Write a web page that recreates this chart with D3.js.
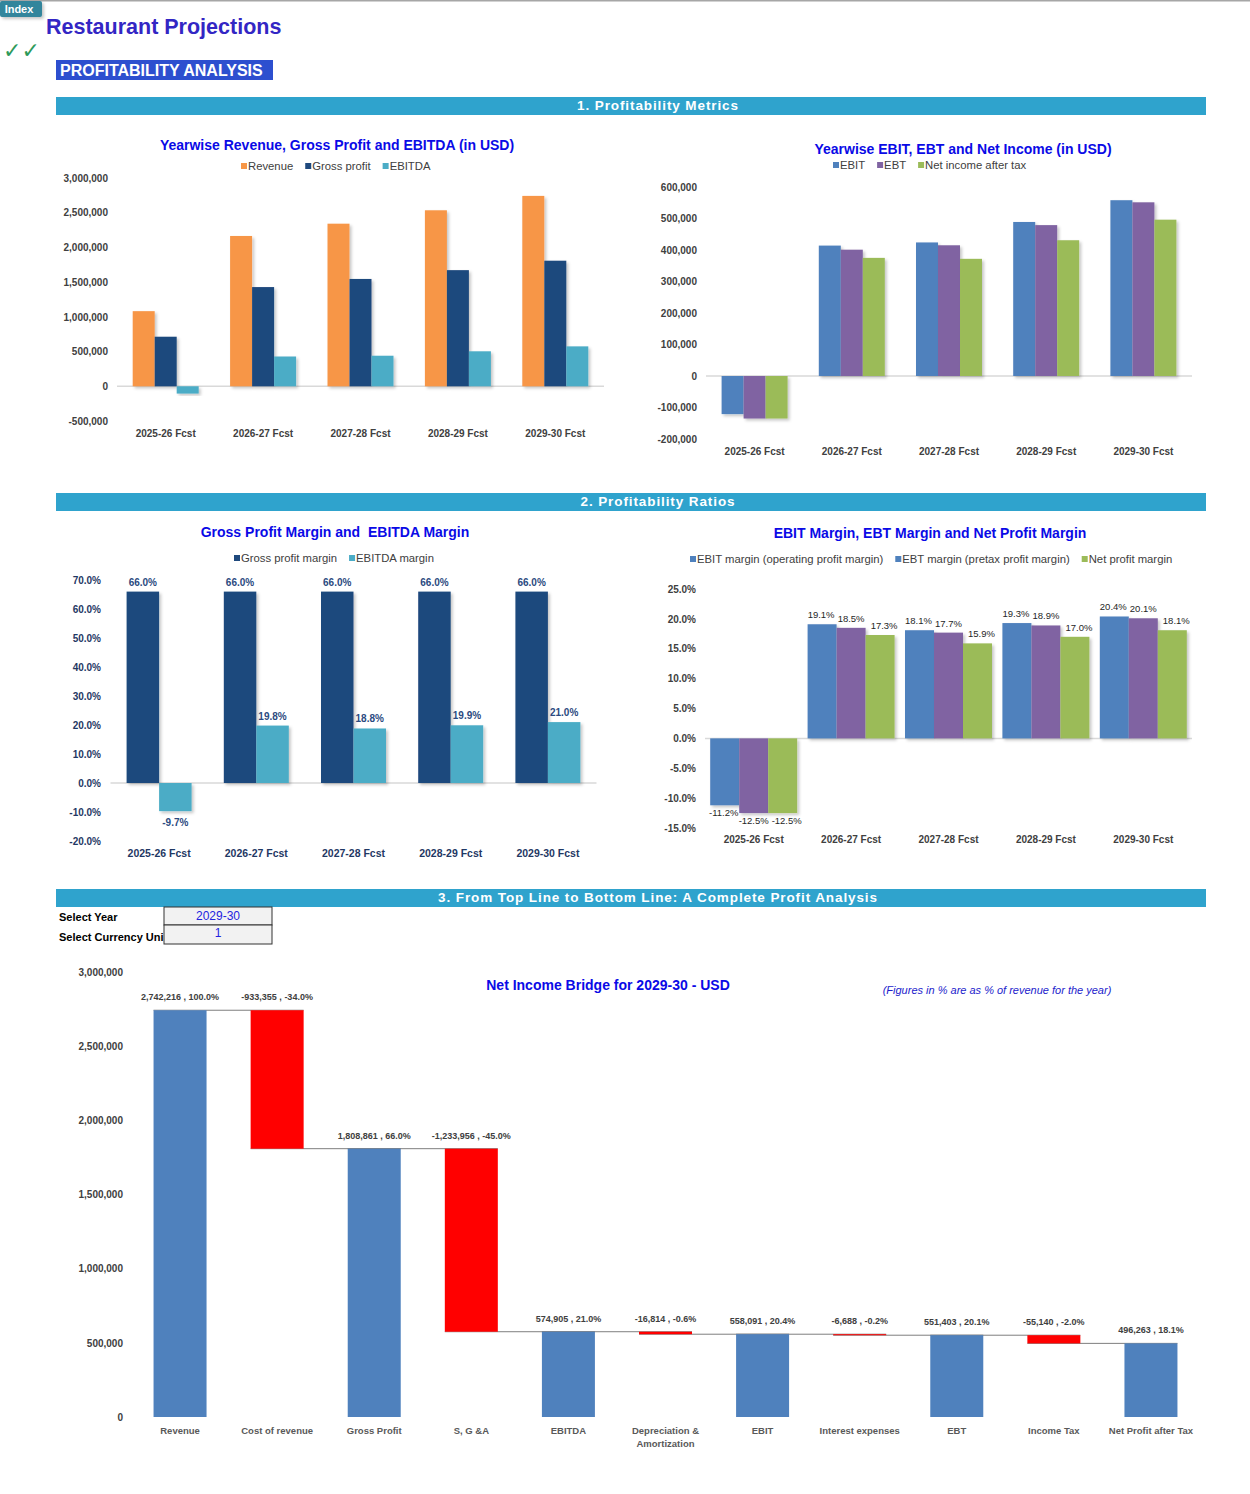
<!DOCTYPE html>
<html><head><meta charset="utf-8">
<script src="https://cdn.jsdelivr.net/npm/d3@7"></script>
<style>
body{margin:0;background:#fff;}
svg{display:block;font-family:"Liberation Sans",Arial,sans-serif;}
</style></head>
<body><svg id="c" width="1250" height="1494"></svg>
<script>
// ---------- DATA ----------
const years = ["2025-26 Fcst","2026-27 Fcst","2027-28 Fcst","2028-29 Fcst","2029-30 Fcst"];
const revenue     = [1082000, 2165000, 2342000, 2535000, 2742216];
const grossProfit = [714000, 1429000, 1546000, 1673000, 1808861];
const ebitda      = [-105000, 429000, 440000, 504000, 574905];
const ebit        = [-121000, 414000, 424000, 489000, 558091];
const ebt         = [-135000, 401000, 415000, 479000, 551403];
const netIncome   = [-135000, 375000, 372000, 431000, 496263];
const gpMargin     = [0.660, 0.660, 0.660, 0.660, 0.660];
const ebitdaMargin = [-0.097, 0.198, 0.188, 0.199, 0.210];
const ebitMargin   = [-0.112, 0.191, 0.181, 0.193, 0.204];
const ebtMargin    = [-0.125, 0.185, 0.177, 0.189, 0.201];
const npMargin     = [-0.125, 0.173, 0.159, 0.170, 0.181];
const usdTicks1 = [-500000,0,500000,1000000,1500000,2000000,2500000,3000000];
const usdTicks2 = [-200000,-100000,0,100000,200000,300000,400000,500000,600000];
const pctTicks3 = [-0.2,-0.1,0,0.1,0.2,0.3,0.4,0.5,0.6,0.7];
const pctTicks4 = [-0.15,-0.10,-0.05,0,0.05,0.10,0.15,0.20,0.25];
const bridgeLabels = ["Revenue","Cost of revenue","Gross Profit","S, G &A","EBITDA","Depreciation &\nAmortization","EBIT","Interest expenses","EBT","Income Tax","Net Profit after Tax"];
const bridgeValues = [2742216,-933355,1808861,-1233956,574905,-16814,558091,-6688,551403,-55140,496263];
const bridgePct    = [1.000,-0.340,0.660,-0.450,0.210,-0.006,0.204,-0.002,0.201,-0.020,0.181];
const bridgeType   = ["total","delta","total","delta","total","delta","total","delta","total","delta","total"];
const bridgeTicks  = [0,500000,1000000,1500000,2000000,2500000,3000000];

d3.formatDefaultLocale({decimal:".",thousands:",",grouping:[3],currency:["$",""],minus:"-"});

// ---------- SETUP ----------
const svg = d3.select("#c");
const defs = svg.append("defs");
const f = defs.append("filter").attr("id","sh").attr("x","-20%").attr("y","-20%").attr("width","150%").attr("height","150%");
f.append("feDropShadow").attr("dx",2).attr("dy",2).attr("stdDeviation",1.6).attr("flood-color","#000").attr("flood-opacity",0.22);

svg.append("rect").attr("x",0).attr("y",0).attr("width",1250).attr("height",1.5).attr("fill","#a6a6a6");
svg.append("rect").attr("x",0).attr("y",1).attr("width",42).attr("height",16).attr("rx",2).attr("fill","#31859c").attr("filter","url(#sh)");
svg.append("text").attr("x",19).attr("y",13).attr("text-anchor","middle").attr("fill","#fff").attr("font-size",11).attr("font-weight","bold").text("Index");
svg.append("text").attr("x",46).attr("y",34).attr("fill","#3326c4").attr("font-size",21.5).attr("font-weight","bold").text("Restaurant Projections");
svg.append("text").attr("x",3).attr("y",58).attr("fill","#2e9a5a").attr("font-size",22).attr("font-weight","bold").attr("font-style","italic").attr("font-family","DejaVu Sans").text("✓✓");
svg.append("rect").attr("x",56).attr("y",60).attr("width",217).attr("height",20).attr("fill","#2d4fcf");
svg.append("text").attr("x",60).attr("y",76).attr("fill","#fff").attr("font-size",16).attr("font-weight","bold").text("PROFITABILITY ANALYSIS");

function sectionBar(y, label){
  svg.append("rect").attr("x",56).attr("y",y).attr("width",1150).attr("height",18).attr("fill","#2fa3cd");
  svg.append("text").attr("x",658).attr("y",y+13).attr("text-anchor","middle").attr("fill","#fff")
     .attr("font-size",13.5).attr("font-weight","bold").attr("letter-spacing",0.9).text(label);
}
sectionBar(97,"1. Profitability Metrics");
sectionBar(493,"2. Profitability Ratios");
sectionBar(889,"3. From Top Line to Bottom Line: A Complete Profit Analysis");

function legend(x, y, items, size){
  let cx = x;
  items.forEach(it=>{
    svg.append("rect").attr("x",cx).attr("y",y-3).attr("width",6).attr("height",6).attr("fill",it.c);
    const t = svg.append("text").attr("x",cx+7).attr("y",y+4).attr("font-size",size||11.3).attr("fill","#404040").text(it.n);
    cx += 7 + t.node().getComputedTextLength() + 12;
  });
}

function groupedChart(o){
  const g = svg.append("g");
  const y = d3.scaleLinear().domain(o.domain).range(o.yRange);
  const x0 = d3.scaleBand().domain(years).range(o.xRange);
  const x1 = d3.scaleBand().domain(d3.range(o.series.length)).range([0,o.groupW]);
  const off = (x0.bandwidth()-o.groupW)/2;
  g.append("line").attr("x1",o.xRange[0]).attr("x2",o.xRange[1]).attr("y1",y(0)).attr("y2",y(0)).attr("stroke","#d9d9d9").attr("stroke-width",1.5);
  const ya = d3.axisLeft(y).tickValues(o.ticks).tickSize(0).tickPadding(0).tickFormat(o.tickFmt);
  const ag = g.append("g").attr("transform",`translate(${o.axisX},0)`).call(ya);
  ag.select(".domain").remove();
  ag.selectAll("text").attr("font-size",10).attr("font-weight","bold").attr("fill",o.tickColor).attr("font-family","Liberation Sans, Arial");
  const xa = d3.axisBottom(x0).tickSize(0).tickPadding(0);
  const xg = g.append("g").attr("transform",`translate(0,${o.xLabelY})`).call(xa);
  xg.select(".domain").remove();
  xg.selectAll("text").attr("font-size",o.xLabelSize||10).attr("font-weight","bold").attr("fill",o.xColor||"#404040").attr("font-family","Liberation Sans, Arial");
  o.series.forEach((s,si)=>{
    g.append("g").selectAll("rect").data(s.v).join("rect")
      .attr("x",(d,i)=>x0(years[i])+off+x1(si))
      .attr("width",x1.bandwidth())
      .attr("y",d=>y(Math.max(0,d)))
      .attr("height",d=>Math.abs(y(d)-y(0)))
      .attr("fill",s.c).attr("filter","url(#sh)");
    if(o.labels){
      g.append("g").selectAll("text").data(s.v).join("text")
        .attr("x",(d,i)=>x0(years[i])+off+x1(si)+x1.bandwidth()/2 + (s.dx||0))
        .attr("y",d=>d>=0? y(d)-o.labOff : y(d)+o.labOffNeg)
        .attr("text-anchor","middle").attr("font-size",o.labSize).attr("font-weight",o.labWeight||"normal")
        .attr("fill",o.labColor).text(d=>d3.format(".1%")(d));
    }
  });
  svg.append("text").attr("x",o.titleX).attr("y",o.titleY).attr("text-anchor","middle").attr("fill","#0a0ae6")
     .attr("font-size",14).attr("font-weight","bold").style("white-space","pre").text(o.title);
}

const usdFmt = d3.format(",");
groupedChart({
  title:"Yearwise Revenue, Gross Profit and EBITDA (in USD)", titleX:337, titleY:150,
  domain:[-500000,3000000], yRange:[421,178], xRange:[117,604], groupW:66,
  ticks:usdTicks1, tickFmt:usdFmt, axisX:108, tickColor:"#404040", xLabelY:430,
  series:[{v:revenue,c:"#f79646"},{v:grossProfit,c:"#1f497d"},{v:ebitda,c:"#4bacc6"}]
});
legend(241,166,[{n:"Revenue",c:"#f79646"},{n:"Gross profit",c:"#1f497d"},{n:"EBITDA",c:"#4bacc6"}]);

groupedChart({
  title:"Yearwise EBIT, EBT and Net Income (in USD)", titleX:963, titleY:154,
  domain:[-200000,600000], yRange:[439,187], xRange:[706,1192], groupW:66,
  ticks:usdTicks2, tickFmt:usdFmt, axisX:697, tickColor:"#404040", xLabelY:448,
  series:[{v:ebit,c:"#4f81bd"},{v:ebt,c:"#8064a2"},{v:netIncome,c:"#9bbb59"}]
});
legend(833,165,[{n:"EBIT",c:"#4f81bd"},{n:"EBT",c:"#8064a2"},{n:"Net income after tax",c:"#9bbb59"}]);

groupedChart({
  title:"Gross Profit Margin and  EBITDA Margin", titleX:335, titleY:537,
  domain:[-0.2,0.7], yRange:[841,580], xRange:[110.5,596.5], groupW:65,
  ticks:pctTicks3, tickFmt:d3.format(".1%"), axisX:101, tickColor:"#1f3864", xLabelY:850, xColor:"#1f3864", xLabelSize:10.5,
  labels:true, labOff:6, labOffNeg:15, labSize:10, labWeight:"bold", labColor:"#2b4a80",
  series:[{v:gpMargin,c:"#1f497d"},{v:ebitdaMargin,c:"#4bacc6"}]
});
legend(234,558,[{n:"Gross profit margin",c:"#1f497d"},{n:"EBITDA margin",c:"#4bacc6"}]);

groupedChart({
  title:"EBIT Margin, EBT Margin and Net Profit Margin", titleX:930, titleY:538,
  domain:[-0.15,0.25], yRange:[828,589], xRange:[705,1192], groupW:87,
  ticks:pctTicks4, tickFmt:d3.format(".1%"), axisX:696, tickColor:"#404040", xLabelY:836,
  labels:true, labOff:6, labOffNeg:11, labSize:9.5, labColor:"#262626",
  series:[{v:ebitMargin,c:"#4f81bd",dx:-1},{v:ebtMargin,c:"#8064a2",dx:0},{v:npMargin,c:"#9bbb59",dx:4}]
});
legend(690,559,[{n:"EBIT margin (operating profit margin)",c:"#4f81bd"},{n:"EBT margin (pretax profit margin)",c:"#4f81bd"},{n:"Net profit margin",c:"#9bbb59"}]);

svg.append("text").attr("x",59).attr("y",921).attr("font-size",11).attr("font-weight","bold").attr("fill","#000").text("Select Year");
svg.append("text").attr("x",59).attr("y",941).attr("font-size",11).attr("font-weight","bold").attr("fill","#000").text("Select Currency Uni");
svg.append("rect").attr("x",164).attr("y",907).attr("width",108).attr("height",18).attr("fill","#f2f2f2").attr("stroke","#333");
svg.append("rect").attr("x",164).attr("y",925).attr("width",108).attr("height",19).attr("fill","#f2f2f2").attr("stroke","#333");
svg.append("text").attr("x",218).attr("y",920).attr("text-anchor","middle").attr("font-size",12).attr("fill","#2323e0").text("2029-30");
svg.append("text").attr("x",218).attr("y",937).attr("text-anchor","middle").attr("font-size",12).attr("fill","#2323e0").text("1");

(function(){
  const g = svg.append("g");
  const y = d3.scaleLinear().domain([0,3000000]).range([1417,972]);
  const x = d3.scaleBand().domain(bridgeLabels).range([131.5,1199.5]);
  const bw = 53, off = (x.bandwidth()-bw)/2;
  let run = 0;
  const bars = bridgeValues.map((v,i)=>{
    let lo, hi;
    if(bridgeType[i]==="total"){ lo=0; hi=v; run=v; }
    else { hi=run; lo=run+v; run=lo; }
    return {lab:bridgeLabels[i], v, p:bridgePct[i], lo, hi, end:run, t:bridgeType[i]};
  });
  const ya = d3.axisLeft(y).tickValues(bridgeTicks).tickSize(0).tickPadding(0).tickFormat(d3.format(","));
  const ag = g.append("g").attr("transform","translate(123,0)").call(ya);
  ag.select(".domain").remove();
  ag.selectAll("text").attr("font-size",10).attr("font-weight","bold").attr("fill","#404040").attr("font-family","Liberation Sans, Arial");
  bars.forEach((b,i)=>{
    if(i<bars.length-1){
      g.append("line").attr("x1",x(b.lab)+off).attr("x2",x(bars[i+1].lab)+off+bw)
        .attr("y1",y(b.end)).attr("y2",y(b.end)).attr("stroke","#7f7f7f").attr("stroke-width",1);
    }
  });
  g.append("g").selectAll("rect").data(bars).join("rect")
    .attr("x",d=>x(d.lab)+off).attr("width",bw)
    .attr("y",d=>y(d.hi)).attr("height",d=>Math.max(1,y(d.lo)-y(d.hi)))
    .attr("fill",d=>d.t==="total"?"#4f81bd":"#ff0000");
  g.append("g").selectAll("text").data(bars).join("text")
    .attr("x",d=>x(d.lab)+x.bandwidth()/2).attr("y",d=>y(d.hi)-10)
    .attr("text-anchor","middle").attr("font-size",9).attr("font-weight","bold").attr("fill","#404040")
    .attr("font-family","Liberation Sans Narrow, Arial Narrow, Liberation Sans, Arial")
    .text(d=>d3.format(",")(d.v)+" , "+d3.format(".1%")(d.p));
  bars.forEach(b=>{
    const lines = b.lab.split("\n");
    const t = g.append("text").attr("x",x(b.lab)+x.bandwidth()/2).attr("y",1434).attr("text-anchor","middle")
      .attr("font-size",9.5).attr("font-weight","bold").attr("fill","#595959");
    lines.forEach((l,li)=>t.append("tspan").attr("x",x(b.lab)+x.bandwidth()/2).attr("dy",li?13:0).text(l));
  });
  svg.append("text").attr("x",608).attr("y",990).attr("text-anchor","middle").attr("fill","#0a0ae6").attr("font-size",14).attr("font-weight","bold").text("Net Income Bridge for 2029-30 - USD");
  svg.append("text").attr("x",997).attr("y",994).attr("text-anchor","middle").attr("fill","#1c1ccc").attr("font-size",11).attr("font-style","italic").text("(Figures in % are as % of revenue for the year)");
})();
</script></body></html>
